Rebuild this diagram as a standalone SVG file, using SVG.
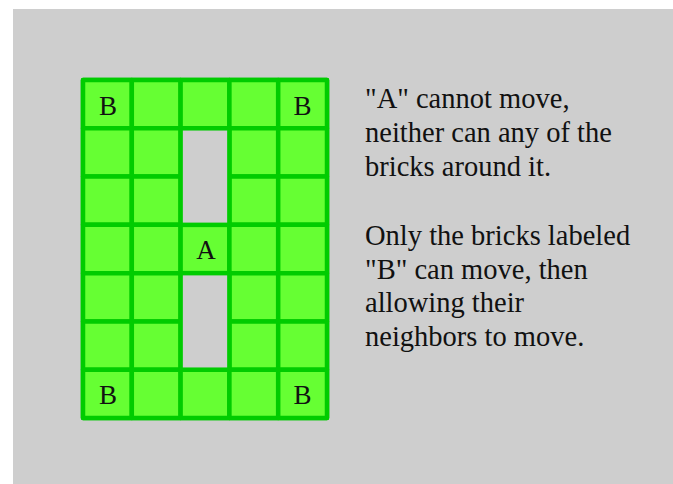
<svg xmlns="http://www.w3.org/2000/svg" width="673" height="484" viewBox="0 0 673 484">
<style>
.cell{fill:#66ff33;stroke:#00cc00;stroke-width:4.5;stroke-linejoin:round}
.hole{fill:#cecece;stroke:#00cc00;stroke-width:4.5}
.lbl{font-family:"Liberation Serif","Times New Roman",serif;font-size:27px;fill:#111111;text-anchor:middle}
.txt{font-family:"Liberation Serif","Times New Roman",serif;font-size:28.5px;fill:#111111}
</style>
<rect x="0" y="0" width="673" height="484" fill="#ffffff"/>
<rect x="13" y="9" width="660" height="475" fill="#cecece"/>
<g id="grid">
<rect class="cell" x="83" y="80" width="244" height="338"/>
<g id="cells">
<rect class="cell" x="83" y="80" width="48.8" height="48.29"/>
<rect class="cell" x="131.8" y="80" width="48.8" height="48.29"/>
<rect class="cell" x="180.6" y="80" width="48.8" height="48.29"/>
<rect class="cell" x="229.4" y="80" width="48.8" height="48.29"/>
<rect class="cell" x="278.2" y="80" width="48.8" height="48.29"/>
<rect class="cell" x="83" y="128.29" width="48.8" height="48.29"/>
<rect class="cell" x="131.8" y="128.29" width="48.8" height="48.29"/>
<rect class="cell" x="229.4" y="128.29" width="48.8" height="48.29"/>
<rect class="cell" x="278.2" y="128.29" width="48.8" height="48.29"/>
<rect class="cell" x="83" y="176.57" width="48.8" height="48.29"/>
<rect class="cell" x="131.8" y="176.57" width="48.8" height="48.29"/>
<rect class="cell" x="229.4" y="176.57" width="48.8" height="48.29"/>
<rect class="cell" x="278.2" y="176.57" width="48.8" height="48.29"/>
<rect class="cell" x="83" y="224.86" width="48.8" height="48.29"/>
<rect class="cell" x="131.8" y="224.86" width="48.8" height="48.29"/>
<rect class="cell" x="180.6" y="224.86" width="48.8" height="48.29"/>
<rect class="cell" x="229.4" y="224.86" width="48.8" height="48.29"/>
<rect class="cell" x="278.2" y="224.86" width="48.8" height="48.29"/>
<rect class="cell" x="83" y="273.14" width="48.8" height="48.29"/>
<rect class="cell" x="131.8" y="273.14" width="48.8" height="48.29"/>
<rect class="cell" x="229.4" y="273.14" width="48.8" height="48.29"/>
<rect class="cell" x="278.2" y="273.14" width="48.8" height="48.29"/>
<rect class="cell" x="83" y="321.43" width="48.8" height="48.29"/>
<rect class="cell" x="131.8" y="321.43" width="48.8" height="48.29"/>
<rect class="cell" x="229.4" y="321.43" width="48.8" height="48.29"/>
<rect class="cell" x="278.2" y="321.43" width="48.8" height="48.29"/>
<rect class="cell" x="83" y="369.71" width="48.8" height="48.29"/>
<rect class="cell" x="131.8" y="369.71" width="48.8" height="48.29"/>
<rect class="cell" x="180.6" y="369.71" width="48.8" height="48.29"/>
<rect class="cell" x="229.4" y="369.71" width="48.8" height="48.29"/>
<rect class="cell" x="278.2" y="369.71" width="48.8" height="48.29"/>
</g>
<rect id="hole-top" class="hole" x="180.6" y="128.29" width="48.8" height="96.57"/>
<rect id="hole-bottom" class="hole" x="180.6" y="273.14" width="48.8" height="96.57"/>
</g>
<g id="labels">
<text class="lbl" x="108" y="114.7">B</text>
<text class="lbl" x="302.6" y="114.7">B</text>
<text class="lbl" x="206" y="259">A</text>
<text class="lbl" x="108" y="403.5">B</text>
<text class="lbl" x="302.6" y="403.5">B</text>
</g>
<g id="description">
<text class="txt" x="365" y="107.5">"A" cannot move,</text>
<text class="txt" x="365" y="141.5">neither can any of the</text>
<text class="txt" x="365" y="175.5">bricks around it.</text>
<text class="txt" x="365" y="245">Only the bricks labeled</text>
<text class="txt" x="365" y="278.5">"B" can move, then</text>
<text class="txt" x="365" y="312">allowing their</text>
<text class="txt" x="365" y="346">neighbors to move.</text>
</g>
</svg>
